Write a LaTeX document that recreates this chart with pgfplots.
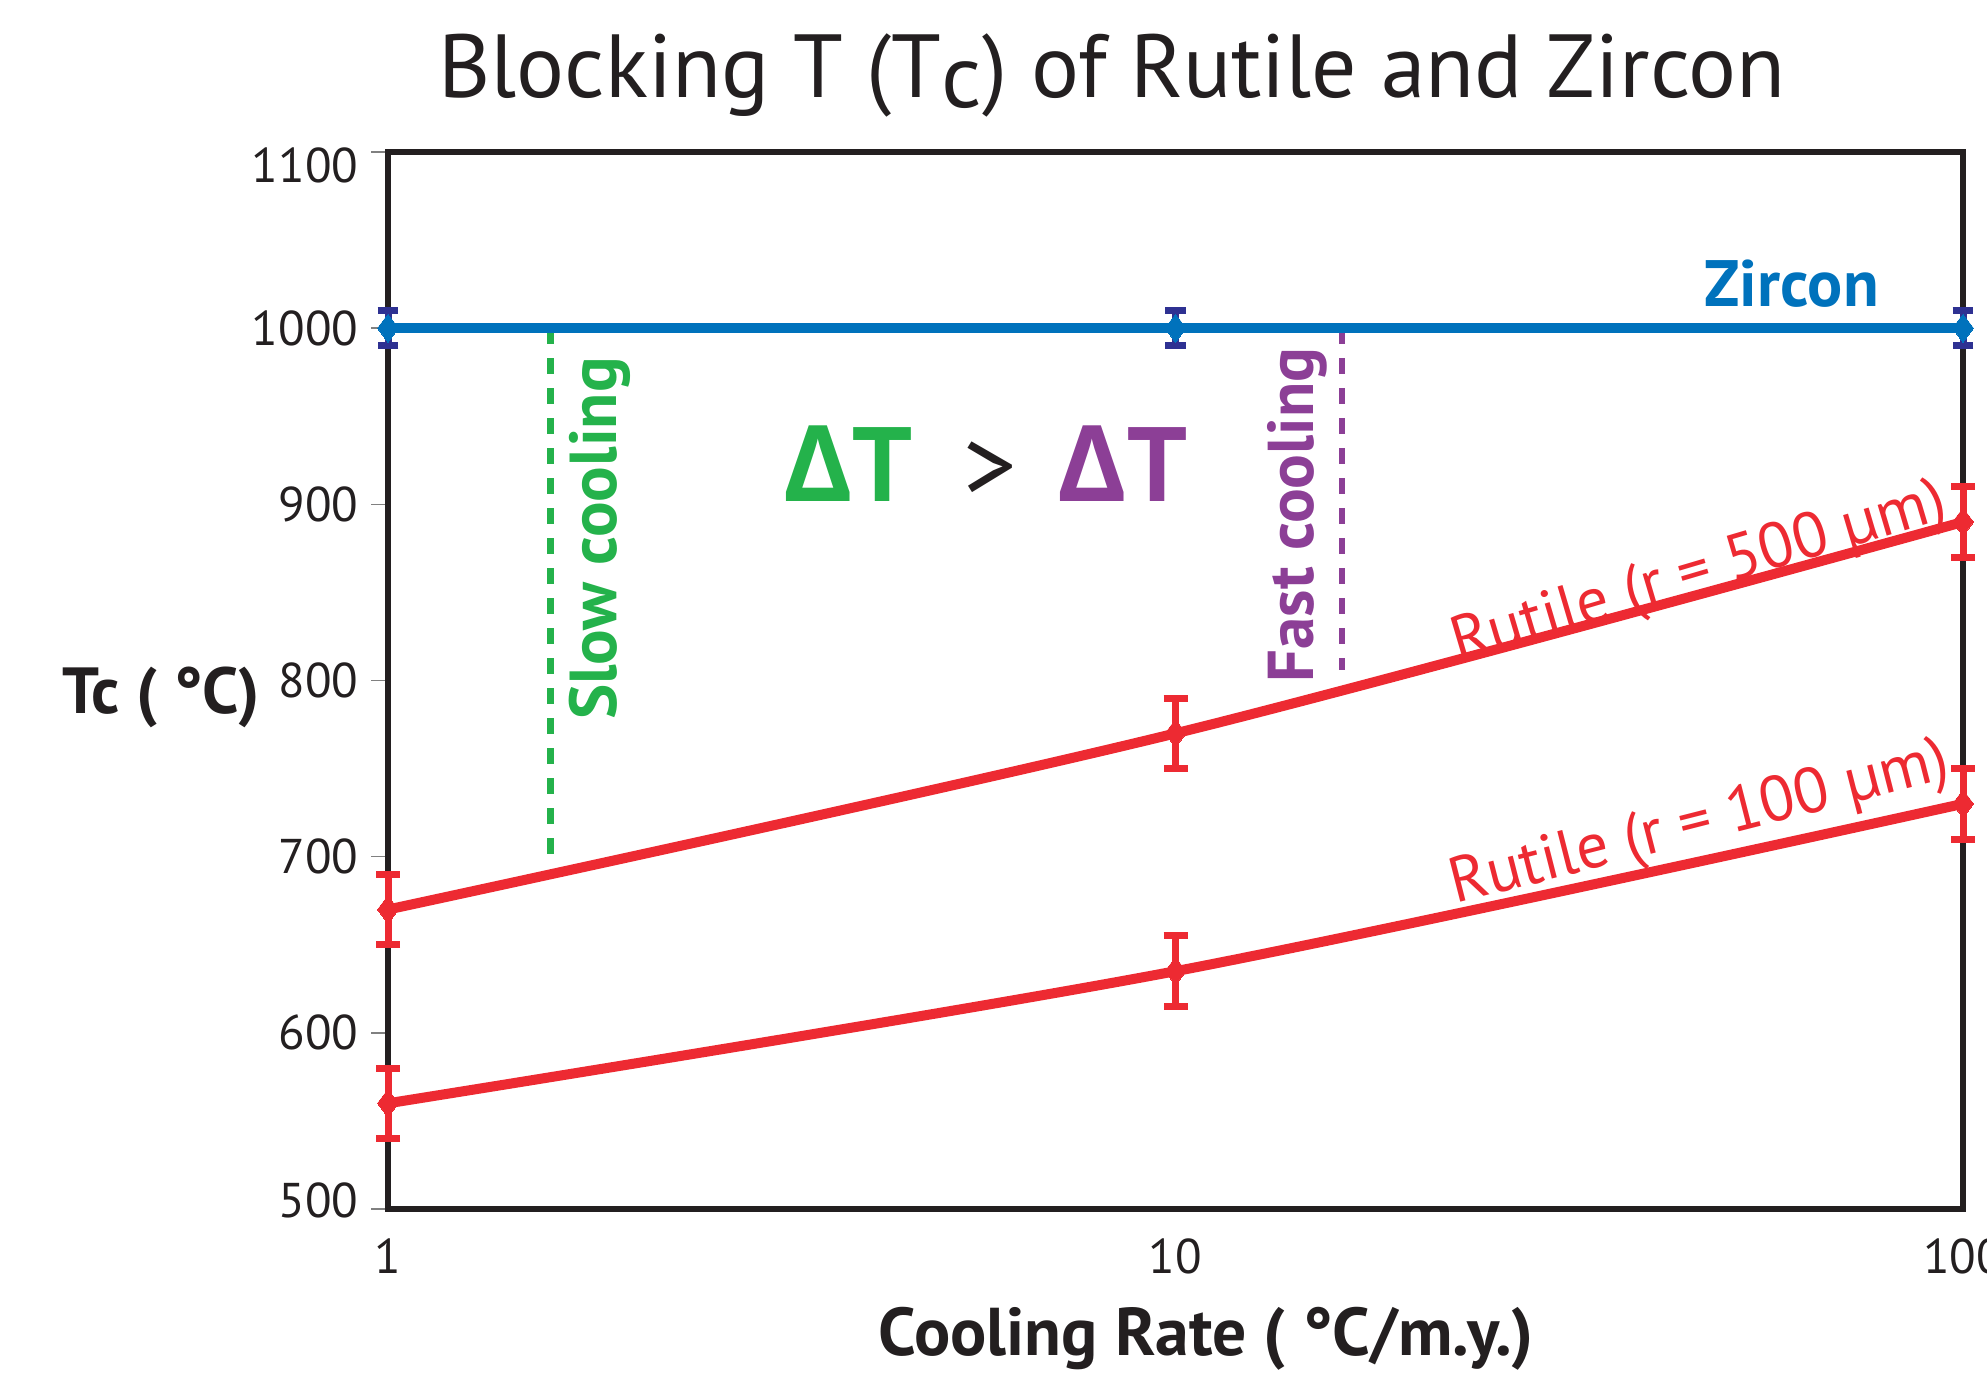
\documentclass[border=0pt]{standalone}
\usepackage{pgfplots}
\pgfplotsset{compat=1.18}
\usepackage{fontspec}
\setmainfont{PT Sans}
\newfontfamily\grk{Open Sans}
\definecolor{zblue}{HTML}{0072BC}
\definecolor{znavy}{HTML}{2E3192}
\definecolor{rred}{HTML}{ED2A32}
\definecolor{sgreen}{HTML}{24B24B}
\definecolor{fpurple}{HTML}{8C3F96}
\definecolor{axblack}{HTML}{231F20}
\begin{document}
\begin{tikzpicture}
\begin{axis}[name=ax, at={(0,0)}, anchor=south west,
  scale only axis, width=393.75pt, height=264.25pt,
  xmode=log, xmin=1, xmax=100, ymin=500, ymax=1100,
  xtick={1,10,100}, xticklabels={1,10,100}, minor xtick={},
  ytick={500,600,...,1100},
  yticklabels={\raisebox{2.2pt}[\height][\depth]{500},600,700,800,900,1000,\raisebox{-3.4pt}[\height][\depth]{1100}},
  axis line style={line width=1.5pt, axblack},
  ytick pos=left, xtick pos=bottom,
  xtick style={draw=none},
  ytick style={line width=0.4pt, gray},
  tick align=outside, major tick length=4.25pt,
  /pgf/number format/assume math mode=true,
  /pgf/number format/1000 sep={},
  ticklabel style={font=\fontsize{12.2}{14}\selectfont, text=axblack},
  yticklabel style={anchor=east, inner sep=0pt, xshift=-3pt},
  xticklabel style={anchor=base, inner sep=0pt, yshift=-11.75pt},
  clip=false,
]
% dashed markers of cooling rates
\addplot[sgreen, line width=1.7pt, dash pattern=on 4pt off 3.5pt] coordinates {(1.61,1000) (1.61,694)};
\addplot[fpurple, line width=1.7pt, dash pattern=on 4pt off 3.5pt] coordinates {(16.27,1000) (16.27,806)};
% Rutile r = 100 um
\addplot[rred, line width=2.5pt, smooth, tension=0.5,
  mark=diamond*, mark size=3.5pt, mark options={solid, fill=rred, draw=rred, line width=0pt},
  error bars/.cd, y dir=both, y explicit, error mark=|,
  error bar style={rred, line width=1.75pt},
  error mark options={rred, line width=1.75pt, mark size=3pt}]
  table[x=x, y=y, y error=e] {
x y e
1 560 20
10 635 20
100 730 20
};
% Rutile r = 500 um
\addplot[rred, line width=2.5pt, smooth, tension=0.5,
  mark=diamond*, mark size=3.5pt, mark options={solid, fill=rred, draw=rred, line width=0pt},
  error bars/.cd, y dir=both, y explicit, error mark=|,
  error bar style={rred, line width=1.75pt},
  error mark options={rred, line width=1.75pt, mark size=3pt}]
  table[x=x, y=y, y error=e] {
x y e
1 670 20
10 770 20
100 890 20
};
% Zircon
\addplot[zblue, line width=2.5pt,
  mark=diamond*, mark size=3.5pt, mark options={solid, fill=zblue, draw=zblue, line width=0pt},
  error bars/.cd, y dir=both, y explicit, error mark=|,
  error bar style={znavy, line width=1.75pt},
  error mark options={znavy, line width=1.75pt, mark size=2.6pt}]
  table[x=x, y=y, y error=e] {
x y e
1 1000 10
10 1000 10
100 1000 10
};
\end{axis}
\begin{scope}[shift={(ax.south west)}]
\node[anchor=base, inner sep=0pt, text=axblack] at (181pt,277.75pt) {\fontsize{22.4}{27}\selectfont Blocking T (T\raisebox{-2.5pt}{c}) of Rutile and Zircon};
\node[anchor=base, inner sep=0pt, text=axblack] at (-56.6pt,124pt) {\bfseries\fontsize{16.3}{19}\selectfont Tc ( °C)};
\node[anchor=base, inner sep=0pt, text=axblack] at (204.6pt,-36.5pt) {\bfseries\fontsize{16.9}{19}\selectfont Cooling Rate ( °C/m.y.)};
\node[anchor=base, inner sep=0pt, text=zblue] at (350.9pt,225.5pt) {\bfseries\fontsize{16.4}{19}\selectfont Zircon};
\node[anchor=base, inner sep=0pt, text=sgreen] at (115pt,176.75pt) {\bfseries\fontsize{26.4}{30}\selectfont{\grk Δ}T};
\node[anchor=base, inner sep=0pt, text=axblack] at (150.5pt,176.75pt) {\fontsize{26.4}{30}\selectfont >};
\node[anchor=base, inner sep=0pt, text=fpurple] at (183.6pt,176.75pt) {\bfseries\fontsize{26.4}{30}\selectfont{\grk Δ}T};
\node[anchor=base, inner sep=0pt, rotate=90, text=sgreen] at (57pt,167.6pt) {\bfseries\fontsize{16.6}{19}\selectfont Slow cooling};
\node[anchor=base, inner sep=0pt, rotate=90, text=fpurple] at (231.25pt,173.5pt) {\bfseries\fontsize{16.2}{19}\selectfont Fast cooling};
\node[anchor=base west, inner sep=0pt, rotate=16.5, text=rred] at (267.5pt,136.5pt) {\fontsize{16}{19}\selectfont Rutile (r = 500 µm)};
\node[anchor=base west, inner sep=0pt, rotate=14.3, text=rred] at (266.75pt,76.25pt) {\fontsize{16}{19}\selectfont Rutile (r = 100 µm)};
\end{scope}
\pgfresetboundingbox
\path[use as bounding box] (ax.south west) ++(-97pt,-40.75pt) rectangle ++(496.75pt,343pt);
\end{tikzpicture}
\end{document}
